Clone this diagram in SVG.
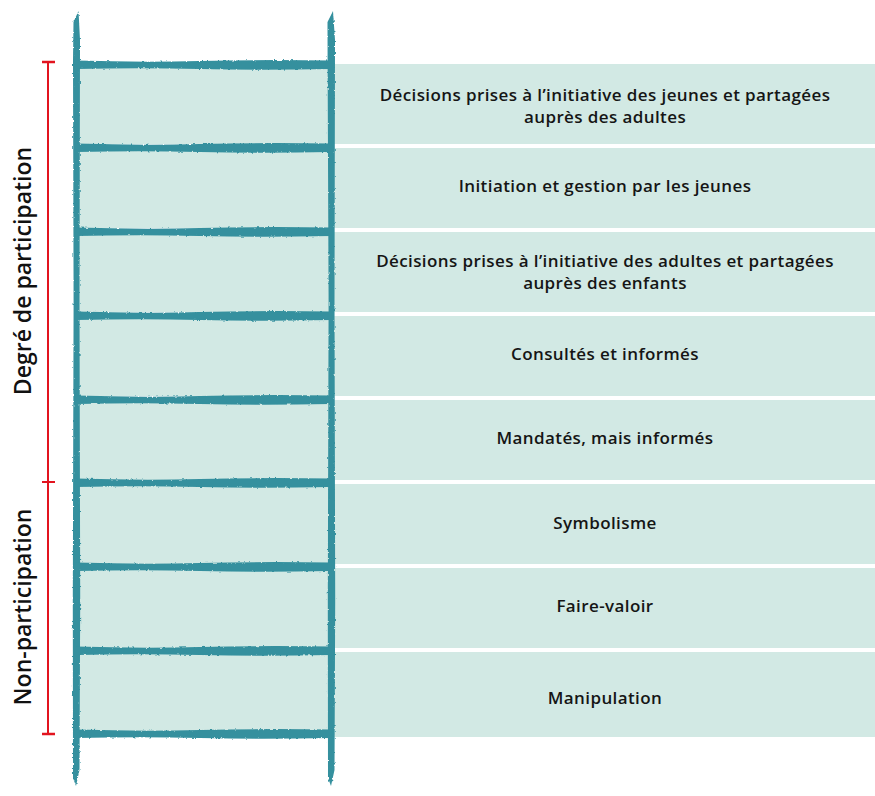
<svg xmlns="http://www.w3.org/2000/svg" width="875" height="796" viewBox="0 0 875 796">
<style>
.band{fill:#d2e9e4}
.lbl{font-family:"Open Sans","Liberation Sans",sans-serif;font-size:17px;font-weight:600;fill:#151515;text-anchor:middle;letter-spacing:0.4px}
.side{font-family:"Open Sans","Liberation Sans",sans-serif;font-size:23px;font-weight:600;fill:#111;text-anchor:middle}
.rail{fill:#34909e}
.red{stroke:#e2141f;fill:none}
</style>
<defs>
<filter id="rough" filterUnits="userSpaceOnUse" x="0" y="0" width="875" height="796">
<feTurbulence type="fractalNoise" baseFrequency="0.35" numOctaves="2" seed="4" result="n"/>
<feDisplacementMap in="SourceGraphic" in2="n" scale="2.6" xChannelSelector="R" yChannelSelector="G"/>
</filter>
</defs>
<rect width="875" height="796" fill="#fff"/>

<g id="rows">
<g id="row1"><rect class="band" x="78" y="64" width="797" height="80"/>
<text class="lbl" x="605" y="100.5">Décisions prises à l’initiative des jeunes et partagées</text>
<text class="lbl" x="605" y="122.5">auprès des adultes</text></g>
<g id="row2"><rect class="band" x="78" y="148" width="797" height="80"/>
<text class="lbl" x="605" y="192">Initiation et gestion par les jeunes</text></g>
<g id="row3"><rect class="band" x="78" y="232" width="797" height="80"/>
<text class="lbl" x="605" y="266.5">Décisions prises à l’initiative des adultes et partagées</text>
<text class="lbl" x="605" y="288.5">auprès des enfants</text></g>
<g id="row4"><rect class="band" x="78" y="316" width="797" height="80"/>
<text class="lbl" x="605" y="360">Consultés et informés</text></g>
<g id="row5"><rect class="band" x="78" y="400" width="797" height="80"/>
<text class="lbl" x="605" y="444">Mandatés, mais informés</text></g>
<g id="row6"><rect class="band" x="78" y="484" width="797" height="80"/>
<text class="lbl" x="605" y="529">Symbolisme</text></g>
<g id="row7"><rect class="band" x="78" y="568" width="797" height="80"/>
<text class="lbl" x="605" y="612">Faire-valoir</text></g>
<g id="row8"><rect class="band" x="78" y="652" width="797" height="85"/>
<text class="lbl" x="605" y="704">Manipulation</text></g>
</g>

<g id="ladder" filter="url(#rough)">
<path class="rail" d="M73.5,22 L78.5,11 L80,40 L79.5,300 L80.2,600 L79.5,770 L76,786 L73,778 L72.8,600 L73.6,300 L73,60 Z"/>
<path class="rail" d="M327.5,22 L333,11 L335,40 L334.5,300 L335.2,600 L334.5,770 L331,786 L328,778 L327.8,600 L328.6,300 L327.6,60 Z"/>
<path class="rail" d="M76,60.5 Q140,62.5 200,61 T331,60.5 L331,69 Q260,70.5 200,69 T76,69 Z"/>
<path class="rail" d="M76,143.5 Q140,145.5 200,144 T331,143.5 L331,152 Q260,153.5 200,152 T76,152 Z"/>
<path class="rail" d="M76,227.5 Q140,229.5 200,228 T331,227.5 L331,236 Q260,237.5 200,236 T76,236 Z"/>
<path class="rail" d="M76,311.5 Q140,313.5 200,312 T331,311.5 L331,320 Q260,321.5 200,320 T76,320 Z"/>
<path class="rail" d="M76,395.5 Q140,397.5 200,396 T331,395.5 L331,404 Q260,405.5 200,404 T76,404 Z"/>
<path class="rail" d="M76,478.5 Q140,480.5 200,479 T331,478.5 L331,487 Q260,488.5 200,487 T76,487 Z"/>
<path class="rail" d="M76,562.5 Q140,564.5 200,563 T331,562.5 L331,571 Q260,572.5 200,571 T76,571 Z"/>
<path class="rail" d="M76,646.5 Q140,648.5 200,647 T331,646.5 L331,655 Q260,656.5 200,655 T76,655 Z"/>
<path class="rail" d="M76,729.5 Q140,731.5 200,730 T331,729.5 L331,738 Q260,739.5 200,738 T76,738 Z"/>
</g>

<g id="bracket">
<line class="red" x1="48" y1="62" x2="48" y2="734" stroke-width="2"/>
<line class="red" x1="42" y1="62" x2="55" y2="62" stroke-width="2.5"/>
<line class="red" x1="42" y1="482" x2="55" y2="482" stroke-width="2"/>
<line class="red" x1="42" y1="734" x2="55" y2="734" stroke-width="2.5"/>
</g>

<g id="labels">
<text class="side" x="31" y="271" transform="rotate(-90 31 271)">Degré de participation</text>
<text class="side" x="31" y="607" transform="rotate(-90 31 607)">Non-participation</text>
</g>
</svg>
